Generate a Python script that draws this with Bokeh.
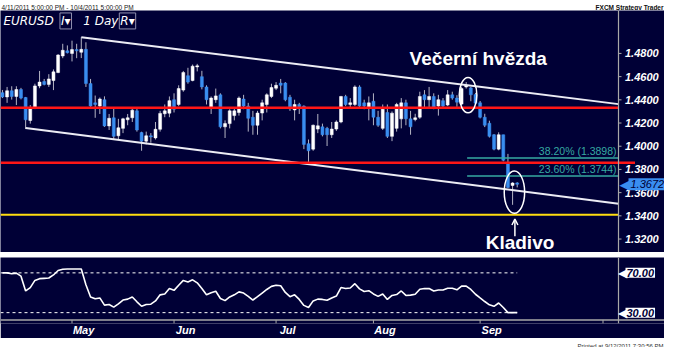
from bokeh.plotting import figure
from bokeh.layouts import column
from bokeh.models import Range1d, Label, Arrow, OpenHead, Span
from bokeh.embed import file_html
from bokeh.resources import INLINE

# ---------------- data (EUR/USD daily, 11 Apr 2011 - 13 Sep 2011) ----------------
opens = [1.4462, 1.4425, 1.4478, 1.4429, 1.4489, 1.4420, 1.4222, 1.4332, 1.4520, 1.4558,
         1.4533, 1.4566, 1.4635, 1.4778, 1.4822, 1.4800, 1.4833, 1.4810, 1.4835, 1.4540,
         1.4374, 1.4346, 1.4401, 1.4175, 1.4245, 1.4090, 1.4154, 1.4228, 1.4245, 1.4305,
         1.4118, 1.4044, 1.4090, 1.4072, 1.4146, 1.4280, 1.4285, 1.4401, 1.4360, 1.4484,
         1.4608, 1.4566, 1.4684, 1.4600, 1.4511, 1.4333, 1.4401, 1.4443, 1.4167, 1.4195,
         1.4264, 1.4291, 1.4407, 1.4346, 1.4250, 1.4181, 1.4286, 1.4360, 1.4429, 1.4500,
         1.4544, 1.4544, 1.4423, 1.4313, 1.4360, 1.4346, 1.4022, 1.3975, 1.4148, 1.4167,
         1.4154, 1.4099, 1.4148, 1.4209, 1.4429, 1.4360, 1.4360, 1.4511, 1.4374, 1.4332,
         1.4388, 1.4250, 1.4154, 1.4291, 1.4085, 1.4154, 1.4236, 1.4374, 1.4236, 1.4230,
         1.4250, 1.4443, 1.4401, 1.4429, 1.4346, 1.4393, 1.4355, 1.4443, 1.4415, 1.4363,
         1.4511, 1.4503, 1.4445, 1.4374, 1.4250, 1.4198, 1.4099, 1.3975, 1.4099, 1.3852,
         1.3662, 1.3684]
highs = [1.4485, 1.4511, 1.4517, 1.4517, 1.4503, 1.4425, 1.4355, 1.4539, 1.4649, 1.4580,
         1.4621, 1.4662, 1.4794, 1.4883, 1.4869, 1.4910, 1.4883, 1.4940, 1.4896, 1.4580,
         1.4437, 1.4420, 1.4430, 1.4278, 1.4327, 1.4236, 1.4245, 1.4278, 1.4320, 1.4338,
         1.4125, 1.4126, 1.4113, 1.4209, 1.4305, 1.4360, 1.4429, 1.4456, 1.4525, 1.4649,
         1.4676, 1.4704, 1.4710, 1.4650, 1.4525, 1.4429, 1.4497, 1.4456, 1.4223, 1.4319,
         1.4333, 1.4429, 1.4443, 1.4374, 1.4305, 1.4305, 1.4401, 1.4456, 1.4539, 1.4553,
         1.4580, 1.4553, 1.4443, 1.4401, 1.4374, 1.4352, 1.4058, 1.4187, 1.4278, 1.4195,
         1.4167, 1.4209, 1.4223, 1.4434, 1.4443, 1.4415, 1.4525, 1.4525, 1.4401, 1.4429,
         1.4456, 1.4305, 1.4360, 1.4360, 1.4300, 1.4374, 1.4415, 1.4401, 1.4305, 1.4280,
         1.4470, 1.4484, 1.4511, 1.4456, 1.4443, 1.4415, 1.4484, 1.4470, 1.4440, 1.4511,
         1.4553, 1.4511, 1.4460, 1.4390, 1.4280, 1.4220, 1.4105, 1.4120, 1.4099, 1.3934,
         1.3690, 1.3690]
lows = [1.4415, 1.4374, 1.4402, 1.4355, 1.4404, 1.4148, 1.4195, 1.4320, 1.4500, 1.4525,
        1.4511, 1.4484, 1.4630, 1.4759, 1.4800, 1.4731, 1.4759, 1.4760, 1.4511, 1.4340,
        1.4245, 1.4278, 1.4167, 1.4140, 1.4058, 1.4058, 1.4113, 1.4181, 1.4209, 1.4126,
        1.3961, 1.4016, 1.4030, 1.4058, 1.4126, 1.4250, 1.4250, 1.4291, 1.4346, 1.4470,
        1.4539, 1.4560, 1.4645, 1.4490, 1.4360, 1.4278, 1.4374, 1.4154, 1.4071, 1.4154,
        1.4223, 1.4264, 1.4319, 1.4126, 1.4099, 1.4099, 1.4223, 1.4291, 1.4415, 1.4484,
        1.4456, 1.4388, 1.4305, 1.4223, 1.4278, 1.3975, 1.3851, 1.3961, 1.4113, 1.4085,
        1.4002, 1.4071, 1.4132, 1.4198, 1.4346, 1.4332, 1.4346, 1.4332, 1.4319, 1.4223,
        1.4181, 1.4167, 1.4140, 1.4071, 1.4044, 1.4126, 1.4154, 1.4181, 1.4099, 1.4215,
        1.4236, 1.4332, 1.4332, 1.4319, 1.4264, 1.4332, 1.4346, 1.4401, 1.4340, 1.4355,
        1.4497, 1.4388, 1.4355, 1.4240, 1.4165, 1.4075, 1.3965, 1.3965, 1.3870, 1.3640,
        1.3495, 1.3645]
closes = [1.4425, 1.4478, 1.4429, 1.4489, 1.4415, 1.4228, 1.4332, 1.4520, 1.4553, 1.4533,
          1.4580, 1.4641, 1.4786, 1.4827, 1.4806, 1.4833, 1.4822, 1.4835, 1.4540, 1.4346,
          1.4360, 1.4407, 1.4175, 1.4241, 1.4085, 1.4159, 1.4236, 1.4245, 1.4311, 1.4140,
          1.4044, 1.4090, 1.4080, 1.4146, 1.4283, 1.4305, 1.4393, 1.4319, 1.4497, 1.4635,
          1.4553, 1.4690, 1.4693, 1.4511, 1.4401, 1.4415, 1.4434, 1.4167, 1.4195, 1.4305,
          1.4305, 1.4415, 1.4346, 1.4241, 1.4181, 1.4286, 1.4374, 1.4443, 1.4506, 1.4525,
          1.4525, 1.4401, 1.4324, 1.4360, 1.4324, 1.4016, 1.3961, 1.4181, 1.4176, 1.4099,
          1.4099, 1.4148, 1.4209, 1.4429, 1.4360, 1.4374, 1.4511, 1.4346, 1.4346, 1.4374,
          1.4250, 1.4181, 1.4319, 1.4085, 1.4285, 1.4360, 1.4374, 1.4236, 1.4167, 1.4245,
          1.4429, 1.4401, 1.4429, 1.4338, 1.4401, 1.4346, 1.4443, 1.4415, 1.4380, 1.4497,
          1.4525, 1.4443, 1.4371, 1.4250, 1.4181, 1.4085, 1.3975, 1.4099, 1.3879, 1.3645,
          1.3683, 1.3672]
rsi = [70.0, 70.0, 69.1, 69.7, 66.7, 51.8, 55.2, 62.4, 64.2, 64.5,
       64.8, 67.9, 72.4, 73.6, 73.9, 73.9, 73.9, 73.9, 58.0, 45.8,
       43.9, 44.8, 37.6, 38.2, 35.5, 38.8, 42.7, 43.6, 45.8, 40.9,
       36.4, 38.2, 38.5, 41.8, 47.9, 48.8, 54.2, 52.4, 57.6, 62.4,
       60.9, 63.0, 60.0, 54.2, 47.9, 50.0, 51.5, 44.2, 42.1, 45.8,
       47.9, 50.9, 49.7, 46.4, 42.7, 46.1, 49.7, 53.3, 56.4, 57.6,
       57.0, 50.3, 46.1, 47.9, 43.3, 37.3, 35.2, 41.8, 43.6, 43.3,
       42.4, 44.8, 46.7, 55.2, 54.2, 54.8, 59.1, 53.9, 51.2, 52.1,
       48.8, 46.4, 48.8, 43.3, 47.3, 48.2, 51.8, 47.3, 47.6, 48.5,
       53.6, 54.2, 54.2, 51.8, 52.7, 52.7, 54.5, 54.5, 53.0, 56.7,
       56.7, 53.3, 48.5, 44.8, 41.2, 37.9, 36.4, 39.7, 35.2, 30.0,
       30.0, 30.0]

month_idx = [15, 37, 59, 80, 103]          # first bar of May..Sep
month_labels = ["May", "Jun", "Jul", "Aug", "Sep"]
oct_tick = 129.5
price_ticks = [1.32, 1.34, 1.36, 1.38, 1.40, 1.42, 1.44, 1.46, 1.48]
red_levels = [1.4332, 1.3858]
red_ends = [132.84, 136.4]
support_level = 1.3410
fib_levels = [1.3898, 1.3744]
fib_texts = ["38.20% (1.3898)", "23.60% (1.3744)"]
fib_start = 100.2
chan_up_x, chan_up_y = [17.0, 132.84], [1.4940, 1.4363]
chan_lo_x, chan_lo_y = [5.0, 132.84], [1.4157, 1.3505]
last_price = 1.3672
rsi_levels = [70, 30]
circle_x = [100.4, 110.4]
circle_y = [1.4441, 1.3604]
circle_w = [3.8, 4.4]
circle_h = [0.0305, 0.0363]
note_star = ("Večerní hvězda", 87.8, 1.4759)
note_hammer = ("Kladivo", 104.2, 1.3167)
hammer_arrow = (110.5, 1.3224, 1.3373)

assert len(opens) == len(highs) == len(lows) == len(closes) == len(rsi)

# ---------------- style / layout ----------------
NAVY = "#000036"
BLUE = "#3a8ef0"
WICK = "#b4b4c4"
GRAY = "#a8a8a8"
TEAL = "#36aaa2"
W = 664
X0, XAX = -0.42, 132.84            # left edge of chart, position of the price axis
PX = 618 / (XAX - X0)               # pixels per bar
XR = Range1d(X0, X0 + W / PX)       # frame spans whole width; axis drawn inside
idx = list(range(len(opens)))
dpx = lambda px: px / PX            # pixel offset -> bar units


def blank(h, bg):
    f = figure(width=W, height=h, x_range=(0, W), y_range=(0, h), toolbar_location=None,
               output_backend="svg", x_axis_location=None, y_axis_location=None,
               min_border=0, background_fill_color=bg, border_fill_color=bg,
               outline_line_color=None)
    f.grid.visible = False
    return f


def panel(h, yr, bottom=0, xaxis=False):
    f = figure(width=W, height=h, x_range=XR, y_range=yr, toolbar_location=None,
               output_backend="svg", x_axis_location="below" if xaxis else None,
               y_axis_location=None, min_border_left=0, min_border_right=0,
               min_border_top=0, min_border_bottom=bottom, background_fill_color=NAVY,
               border_fill_color=NAVY, outline_line_color=None)
    f.grid.visible = False
    f.add_layout(Span(location=XAX, dimension="height", line_color=GRAY, line_width=1.2))
    return f


# header strip
hdr = blank(10, "white")
hdr.add_layout(Label(x=1, y=5, text="4/11/2011 5:00:00 PM - 10/4/2011 5:00:00 PM",
                     text_font="Liberation Sans", text_font_size="6.5px",
                     text_baseline="middle", text_color="#202020"))
hdr.add_layout(Label(x=W - 1, y=5, text="FXCM Strategy Trader", text_align="right",
                     text_font="Liberation Sans", text_font_size="6.5px", text_font_style="bold",
                     text_baseline="middle", text_color="#101010"))

# main price panel
main = panel(242, Range1d(1.3084, 1.5170))

up = [c >= o for o, c in zip(opens, closes)]
tops = [max(o, c) for o, c in zip(opens, closes)]
bots = [min(o, c) if max(o, c) - min(o, c) > 0.0003 else max(o, c) - 0.0003
        for o, c in zip(opens, closes)]
cols = ["white" if u else BLUE for u in up]
main.segment(x0=idx, y0=lows, x1=idx, y1=highs, line_color=WICK, line_width=1)
main.vbar(x=idx, width=0.64, top=tops, bottom=bots, fill_color=cols, line_color=cols,
          line_width=0.5)

main.line(chan_up_x, chan_up_y, line_color="#ececf4", line_width=2)
main.line(chan_lo_x, chan_lo_y, line_color="#ececf4", line_width=2)
main.segment(x0=[X0] * 2, x1=red_ends, y0=red_levels, y1=red_levels,
             line_color="#ff1616", line_width=2.5)
main.segment(x0=[X0], x1=[XAX], y0=[support_level], y1=[support_level],
             line_color="#ffdd10", line_width=2)
main.segment(x0=[fib_start] * 2, x1=[XAX] * 2, y0=fib_levels, y1=fib_levels,
             line_color=TEAL, line_width=1.5)
for lv, t in zip(fib_levels, fib_texts):
    main.add_layout(Label(x=XAX - dpx(2), y=lv, text=t, text_align="right",
                          text_baseline="bottom", y_offset=1, text_color=TEAL,
                          text_font="Liberation Sans", text_font_size="10.5px"))
main.ellipse(x=circle_x, y=circle_y, width=circle_w, height=circle_h, fill_color=None,
             line_color="white", line_width=1.5)
for t, x, y in (note_star, note_hammer):
    main.add_layout(Label(x=x, y=y, text=t, text_baseline="middle", text_color="white",
                          text_font="Liberation Sans", text_font_style="bold",
                          text_font_size="19px"))
main.add_layout(Arrow(end=OpenHead(size=6, line_color="white", line_width=1.5),
                      x_start=hammer_arrow[0], y_start=hammer_arrow[1],
                      x_end=hammer_arrow[0], y_end=hammer_arrow[2],
                      line_color="white", line_width=1.5))

# price axis (drawn inside the frame so that the price tag can sit on it)
main.segment(x0=[XAX] * len(price_ticks), x1=[XAX + dpx(3)] * len(price_ticks),
             y0=price_ticks, y1=price_ticks, line_color=GRAY, line_width=1)
for t in price_ticks:
    main.add_layout(Label(x=XAX + dpx(6.5), y=t, text=f"{t:.4f}", text_baseline="middle",
                          text_color="white", text_font="Liberation Sans",
                          text_font_style="bold italic", text_font_size="11px"))

# header inside the panel
HY = 1.5080
main.add_layout(Label(x=0.2, y=HY, text="EURUSD", text_baseline="middle", text_color="white",
                      text_font="DejaVu Sans", text_font_style="italic", text_font_size="12px"))
for x, t in [(12.4, "I▾"), (17.2, "1 Day"), (25.2, "R▾")]:
    boxed = t != "1 Day"
    main.add_layout(Label(x=x, y=HY, text=t, text_baseline="middle", text_color="white",
                          text_font="DejaVu Sans", text_font_style="italic",
                          text_font_size="12px", padding=1,
                          border_line_color="#9090b0" if boxed else None,
                          background_fill_color=NAVY if boxed else None))

# current price tag
main.add_layout(Label(x=XAX + dpx(1), y=last_price, text="◀", text_baseline="middle",
                      text_align="left", text_color=BLUE, text_font="DejaVu Sans",
                      text_font_size="13px"))
main.add_layout(Label(x=XAX + dpx(10), y=last_price, text=f"{last_price:.4f}",
                      text_baseline="middle", text_align="left", text_color=NAVY,
                      background_fill_color=BLUE, padding=2, text_font="Liberation Sans",
                      text_font_style="italic", text_font_size="11px"))

# separator
sep = blank(5, NAVY)
sep.line([0, W], [4, 4], line_color="#b8b8b8", line_width=1)
sep.line([0, W], [1, 1], line_color="#b8b8b8", line_width=1)

# oscillator panel
AX_V = 22.7
osc = panel(81, Range1d(19.09, 85.45), bottom=12, xaxis=True)
for lv in rsi_levels:
    osc.line([X0, idx[-1]], [lv, lv], line_color="white", line_width=1, line_dash="3 3")
osc.line(idx, rsi, line_color="white", line_width=1.6)
osc.add_layout(Span(location=AX_V, dimension="width", line_color=GRAY, line_width=1.5))
tick_pos = month_idx + [oct_tick]
osc.segment(x0=tick_pos, x1=tick_pos, y0=[AX_V] * len(tick_pos), y1=[19.09] * len(tick_pos),
            line_color=GRAY, line_width=1)
ox = osc.xaxis[0]
lab_pos = [m + 2.5 for m in month_idx]
ox.ticker = lab_pos
ox.major_label_overrides = {p: t for p, t in zip(lab_pos, month_labels)}
ox.axis_line_color = None
ox.major_tick_line_color = None
ox.minor_tick_line_color = None
ox.major_tick_out = 0
ox.major_tick_in = 0
ox.major_label_standoff = 0
ox.major_label_text_color = "white"
ox.major_label_text_font = "Liberation Sans"
ox.major_label_text_font_style = "bold italic"
ox.major_label_text_font_size = "11px"
for lv in rsi_levels:
    osc.add_layout(Label(x=XAX - dpx(0.5), y=lv, text="◀", text_baseline="middle",
                         text_color="white", text_font="DejaVu Sans", text_font_size="12px"))
    osc.add_layout(Label(x=XAX + dpx(7), y=lv, text=f"{lv:.2f}", text_baseline="middle",
                         text_color=NAVY, background_fill_color="white", padding=1,
                         text_font="Liberation Sans", text_font_style="bold italic",
                         text_font_size="11px"))

# footer strip
ftr = blank(9, "white")
ftr.add_layout(Label(x=W - 1, y=5, text="Printed at 9/12/2011 7:30:56 PM", text_align="right",
                     text_font="Liberation Sans", text_font_size="6px", text_baseline="middle",
                     text_color="#303030"))

layout = column(hdr, main, sep, osc, ftr, spacing=0)
open("out.html", "w").write(file_html(layout, INLINE))
